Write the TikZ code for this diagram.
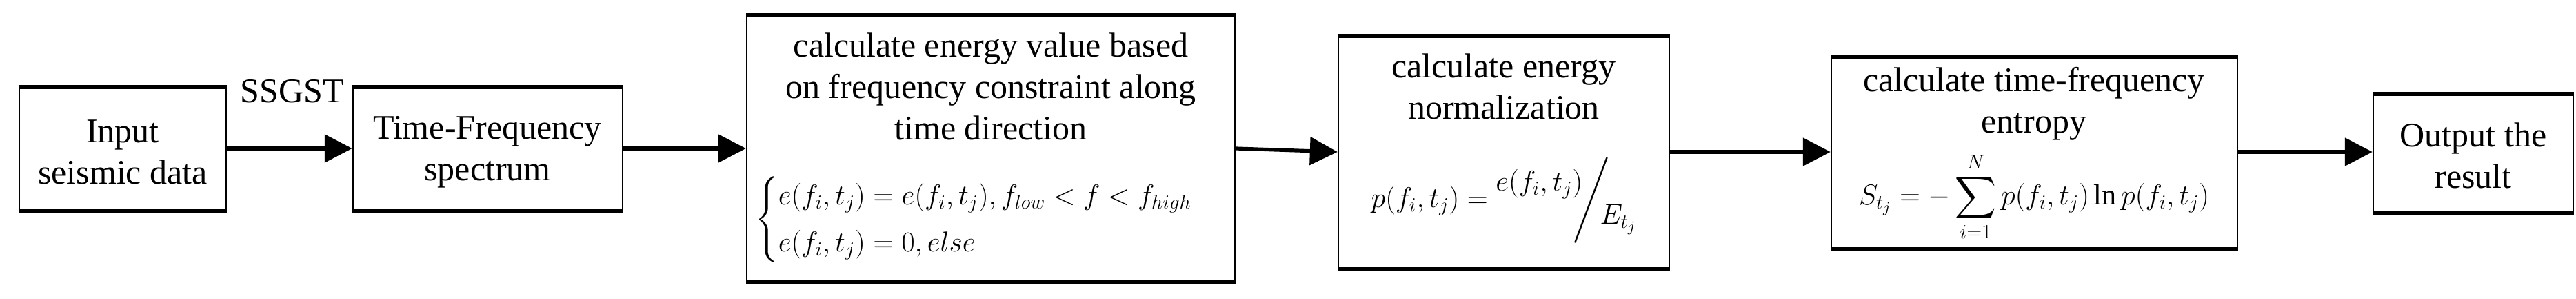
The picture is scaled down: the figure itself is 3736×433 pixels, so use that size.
\documentclass[tikz,border=0pt]{standalone}
\usepackage{amsmath}
\usepackage{fontspec}
\setmainfont{Liberation Serif}
\usetikzlibrary{arrows.meta,fit}
\begin{document}
\begin{tikzpicture}[x=0.5pt,y=-0.5pt,
  every node/.style={font=\fontsize{25}{30}\selectfont},
  box/.style={draw,line width=1.2pt,inner sep=0pt},
  txt/.style={align=center,inner sep=0pt},
  mth/.style={txt,font=\fontsize{21}{25}\selectfont},
  arr/.style={line width=2.6pt,-{Triangle[length=20pt,width=20pt]}}]
\useasboundingbox (0,0) rectangle (3736,433);
\newcommand{\mkbox}[5]{%
  \node[box,fit={(#2,#4)(#3,#5)}] (#1) {};
  \draw[line width=3pt] (#1.north west)--(#1.north east) (#1.south west)--(#1.south east);}
\mkbox{b1}{28}{328}{127}{305}
\mkbox{b2}{512}{903}{127}{305}
\mkbox{b3}{1083}{1791}{23}{408}
\mkbox{b4}{1941}{2421}{53}{388}
\mkbox{b5}{2656}{3245}{84}{359}
\mkbox{b6}{3442}{3732}{137}{307}
\node[txt] (t1) at (178,220) {Input\\seismic data};
\node[txt] (t2) at (707,220) {Time-Frequency\\spectrum};
\node[txt] (ss) at (424,132) {SSGST};
\node[txt] (t3) at (1437,125) {calculate energy value based\\on frequency constraint along\\time direction};
\node[mth,anchor=west] (f3) at (1095,318) {$\begin{cases} e(f_i,t_j)=e(f_i,t_j), f_{low}<f<f_{high}\\[4pt] e(f_i,t_j)=0, else\end{cases}$};
\node[txt] (t4) at (2181,125) {calculate energy\\normalization};
\node[mth] (f4) at (2181,290) {$p(f_i,t_j)=\raisebox{12pt}{$e(f_i,t_j)$}\!\!\Bigg/\!\!\lower12pt\hbox{$E_{t_j}$}$};
\node[txt] (t5) at (2950,150) {calculate time-frequency\\entropy};
\node[mth] (f5) at (2950,285) {$\displaystyle S_{t_j}=-\sum_{i=1}^{N}p(f_i,t_j)\ln p(f_i,t_j)$};
\node[txt] (t6) at (3587,225) {Output the\\result};
\draw[arr] (b1.east|-0,215) -- (b2.west|-0,215);
\draw[arr] (b2.east|-0,215) -- (b3.west|-0,215);
\draw[arr] (b3.east|-0,215) -- (b4.west|-0,220);
\draw[arr] (b4.east|-0,220) -- (b5.west|-0,220);
\draw[arr] (b5.east|-0,220) -- (b6.west|-0,220);
\end{tikzpicture}
\end{document}
